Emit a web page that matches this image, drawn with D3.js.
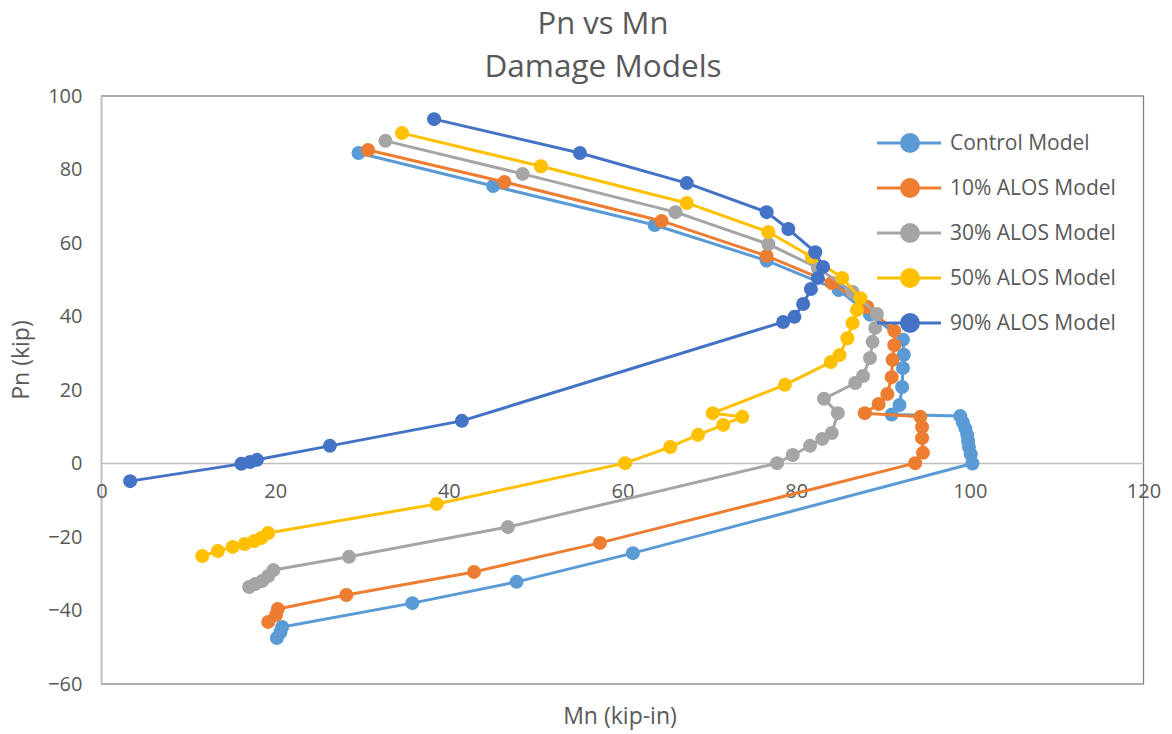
<!DOCTYPE html>
<html>
<head>
<meta charset="utf-8">
<script src="https://cdn.jsdelivr.net/npm/d3@7"></script>
<style>
  html, body { margin: 0; padding: 0; background: #fff; }
  svg { display: block; font-family: "Open Sans", "Noto Sans", sans-serif; }
</style>
</head>
<body>
<svg id="chart" width="1172" height="734"></svg>
<script>
// Interaction diagrams: axial capacity Pn (kip) vs moment capacity Mn (kip-in)
const seriesNames = ["Control Model", "10% ALOS Model", "30% ALOS Model", "50% ALOS Model", "90% ALOS Model"];
const seriesColors = ["#5B9BD5", "#ED7D31", "#A5A5A5", "#FFC000", "#4472C4"];

const controlMn = [29.6, 45.1, 63.7, 76.6, 84.9, 88.5, 92.3, 92.4, 92.3, 92.2, 91.9, 91.0, 98.9, 99.2, 99.5, 99.7, 99.8, 99.9, 100.1, 100.3, 61.2, 47.8, 35.8, 20.8, 20.6, 20.2];
const controlPn = [84.5, 75.5, 64.9, 55.2, 47.2, 40.5, 33.7, 29.6, 26.0, 20.8, 15.9, 13.3, 12.9, 11.2, 9.5, 7.8, 6.1, 4.5, 2.5, 0.0, -24.4, -32.2, -38.0, -44.5, -45.9, -47.5];

const alos10Mn = [30.7, 46.4, 64.5, 76.6, 84.1, 88.2, 91.3, 91.3, 91.1, 91.0, 90.5, 89.5, 87.9, 94.3, 94.5, 94.5, 94.6, 93.7, 57.4, 42.9, 28.2, 20.3, 20.1, 19.2];
const alos10Pn = [85.3, 76.6, 66.0, 56.5, 49.1, 42.6, 36.1, 32.2, 28.2, 23.5, 18.9, 16.2, 13.7, 12.7, 9.9, 6.9, 2.9, 0.1, -21.6, -29.5, -35.8, -39.6, -41.2, -43.1];

const alos30Mn = [32.7, 48.5, 66.1, 76.8, 82.5, 86.5, 89.3, 89.1, 88.8, 88.5, 87.7, 86.8, 83.2, 84.8, 84.1, 83.0, 81.6, 79.6, 77.8, 46.8, 28.5, 19.8, 19.2, 18.5, 17.7, 17.0];
const alos30Pn = [87.8, 78.8, 68.4, 59.7, 53.2, 46.7, 40.7, 36.9, 33.1, 28.7, 23.8, 21.9, 17.6, 13.7, 8.3, 6.7, 4.8, 2.3, 0.1, -17.3, -25.4, -29.0, -30.6, -32.0, -32.8, -33.6];

const alos50Mn = [34.6, 50.6, 67.4, 76.8, 81.8, 85.3, 87.4, 87.0, 86.5, 85.9, 85.0, 84.0, 78.7, 70.4, 73.8, 71.6, 68.7, 65.5, 60.3, 38.6, 19.2, 18.4, 17.6, 16.5, 15.1, 13.4, 11.6];
const alos50Pn = [89.9, 80.9, 70.9, 63.0, 56.2, 50.5, 45.0, 41.8, 38.2, 34.1, 29.5, 27.6, 21.4, 13.7, 12.7, 10.5, 7.8, 4.5, 0.1, -11.0, -18.9, -20.3, -21.1, -21.9, -22.7, -23.8, -25.2];

const alos90Mn = [38.3, 55.1, 67.4, 76.6, 79.1, 82.2, 83.1, 82.5, 81.7, 80.8, 79.8, 78.5, 41.5, 26.3, 17.9, 17.1, 16.1, 3.3];
const alos90Pn = [93.7, 84.5, 76.3, 68.4, 63.8, 57.5, 53.5, 50.5, 47.5, 43.4, 39.9, 38.5, 11.6, 4.8, 1.0, 0.4, -0.1, -4.8];

const xTicks = [0, 20, 40, 60, 80, 100, 120];
const yTicks = [-60, -40, -20, 0, 20, 40, 60, 80, 100];

const seriesMn = [controlMn, alos10Mn, alos30Mn, alos50Mn, alos90Mn];
const seriesPn = [controlPn, alos10Pn, alos30Pn, alos50Pn, alos90Pn];

const series = seriesNames.map((name, i) => ({
  name,
  color: seriesColors[i],
  points: seriesMn[i].map((m, j) => ({ m, p: seriesPn[i][j] }))
}));

const svg = d3.select("#chart");
const plot = { left: 101.5, right: 1143.5, top: 96, bottom: 684 };

const x = d3.scaleLinear().domain([0, 120]).range([plot.left, plot.right]);
const y = d3.scaleLinear().domain([-60, 100]).range([plot.bottom, plot.top]);

const textColor = "#595959";
const tickFont = 20;

// Titles
svg.append("text").attr("x", 603).attr("y", 34).attr("text-anchor", "middle")
  .attr("font-size", 31).attr("fill", textColor).text("Pn vs Mn");
svg.append("text").attr("x", 603).attr("y", 77).attr("text-anchor", "middle")
  .attr("font-size", 31.5).attr("fill", textColor).text("Damage Models");

// Plot area border
svg.append("rect")
  .attr("x", plot.left).attr("y", plot.top)
  .attr("width", plot.right - plot.left).attr("height", plot.bottom - plot.top)
  .attr("fill", "none").attr("stroke", "#808080").attr("stroke-width", 1.3);

// Axis lines through zero
svg.append("line")
  .attr("x1", x(0)).attr("x2", x(0)).attr("y1", plot.top).attr("y2", plot.bottom)
  .attr("stroke", "#BFBFBF").attr("stroke-width", 1.5);
svg.append("line")
  .attr("x1", plot.left).attr("x2", plot.right).attr("y1", y(0)).attr("y2", y(0))
  .attr("stroke", "#BFBFBF").attr("stroke-width", 1.5);

// Y tick labels
const yAxis = d3.axisLeft(y).tickValues(yTicks).tickSize(0).tickPadding(19);
const gy = svg.append("g").attr("transform", `translate(${plot.left},0)`).call(yAxis);
gy.select(".domain").remove();
gy.selectAll("text").attr("font-size", tickFont).attr("fill", textColor)
  .attr("font-family", '"Open Sans", sans-serif');

// X tick labels sit under the zero line
const xAxis = d3.axisBottom(x).tickValues(xTicks).tickSize(0).tickPadding(20);
const gx = svg.append("g").attr("transform", `translate(0,${y(0)})`).call(xAxis);
gx.select(".domain").remove();
gx.selectAll("text").attr("font-size", tickFont).attr("fill", textColor)
  .attr("font-family", '"Open Sans", sans-serif');

// Axis titles
svg.append("text")
  .attr("transform", `translate(29,360) rotate(-90)`)
  .attr("text-anchor", "middle").attr("font-size", 23).attr("fill", textColor)
  .text("Pn (kip)");
svg.append("text")
  .attr("x", 620).attr("y", 724).attr("text-anchor", "middle")
  .attr("font-size", 23).attr("fill", textColor).text("Mn (kip-in)");

// Series lines with markers
const line = d3.line().x(d => x(d.m)).y(d => y(d.p));
const gSeries = svg.append("g");
series.forEach(s => {
  const g = gSeries.append("g");
  g.append("path").datum(s.points)
    .attr("d", line).attr("fill", "none")
    .attr("stroke", s.color).attr("stroke-width", 3).attr("stroke-linejoin", "round");
  g.selectAll("circle").data(s.points).join("circle")
    .attr("cx", d => x(d.m)).attr("cy", d => y(d.p)).attr("r", 7)
    .attr("fill", s.color);
});

// Legend
const legend = svg.append("g").attr("transform", "translate(877,143)");
series.forEach((s, i) => {
  const g = legend.append("g").attr("transform", `translate(0,${i * 45})`);
  g.append("line").attr("x1", 0).attr("x2", 64).attr("y1", 0).attr("y2", 0)
    .attr("stroke", s.color).attr("stroke-width", 3);
  g.append("circle").attr("cx", 33).attr("cy", 0).attr("r", 10).attr("fill", s.color);
  g.append("text").attr("x", 73).attr("y", 0).attr("dy", "0.35em")
    .attr("font-size", 21).attr("fill", textColor).text(s.name);
});
</script>
</body>
</html>
